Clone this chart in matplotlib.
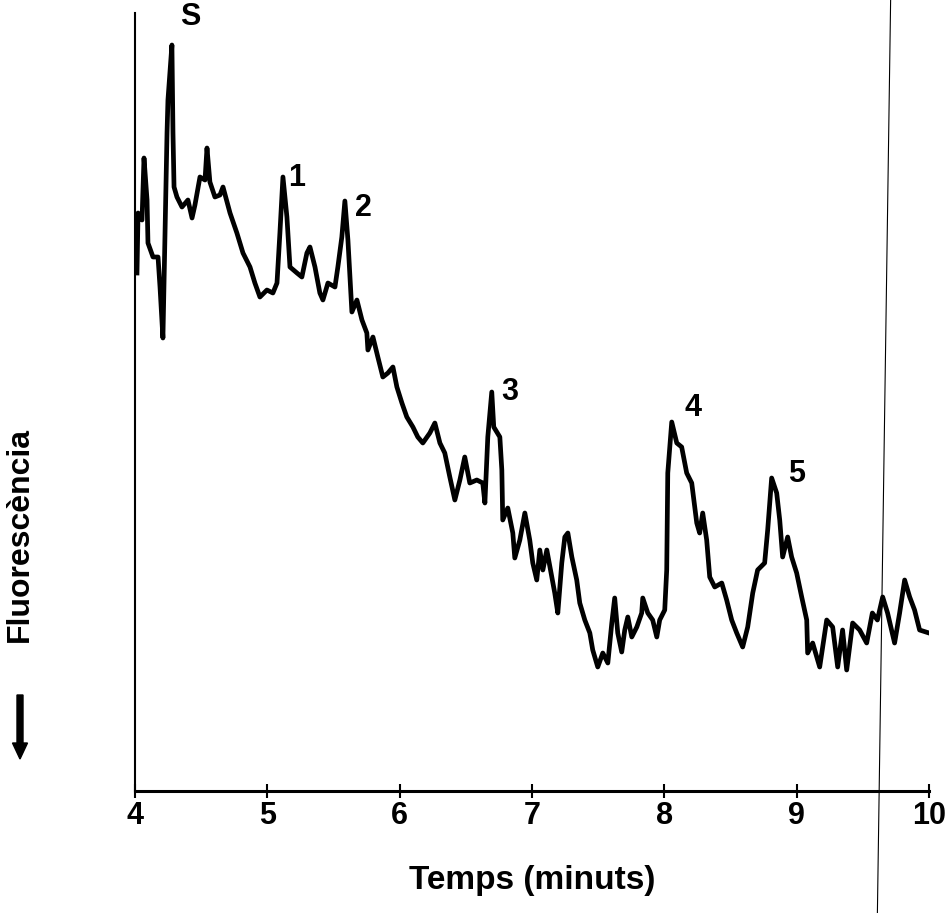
import numpy as np
import matplotlib
matplotlib.use("Agg")
import matplotlib.pyplot as plt

plt.rcParams['font.family'] = ['Liberation Sans Narrow', 'Liberation Sans', 'DejaVu Sans']
plt.rcParams['font.weight'] = 'bold'

# chromatogram trace (time in minutes, fluorescence in a.u.)
temps = [4.015, 4.023, 4.053, 4.068, 4.091, 4.098, 4.136, 4.174, 4.189, 4.211,
         4.242, 4.249, 4.279, 4.287, 4.295, 4.317, 4.355, 4.400, 4.431, 4.453,
         4.491, 4.529, 4.544, 4.566, 4.604, 4.642, 4.665, 4.718, 4.770, 4.816,
         4.869, 4.906, 4.944, 4.997, 5.042, 5.073, 5.095, 5.118, 5.148, 5.171,
         5.224, 5.261, 5.299, 5.322, 5.360, 5.397, 5.420, 5.458, 5.511, 5.533,
         5.563, 5.586, 5.609, 5.639, 5.677, 5.715, 5.752, 5.760, 5.798, 5.835,
         5.873, 5.911, 5.949, 5.979, 6.017, 6.054, 6.100, 6.137, 6.175, 6.228,
         6.266, 6.304, 6.341, 6.379, 6.417, 6.455, 6.492, 6.530, 6.583, 6.628,
         6.644, 6.666, 6.696, 6.711, 6.757, 6.772, 6.779, 6.817, 6.855, 6.870,
         6.908, 6.946, 6.983, 7.006, 7.036, 7.059, 7.082, 7.112, 7.150, 7.172,
         7.195, 7.225, 7.248, 7.271, 7.301, 7.338, 7.361, 7.399, 7.437, 7.459,
         7.497, 7.535, 7.573, 7.603, 7.625, 7.648, 7.678, 7.701, 7.724, 7.754,
         7.792, 7.829, 7.837, 7.875, 7.912, 7.943, 7.965, 8.003, 8.018, 8.026,
         8.056, 8.094, 8.131, 8.169, 8.207, 8.245, 8.267, 8.290, 8.320, 8.343,
         8.381, 8.434, 8.471, 8.509, 8.547, 8.592, 8.630, 8.668, 8.705, 8.758,
         8.781, 8.811, 8.849, 8.872, 8.894, 8.932, 8.962, 9.000, 9.038, 9.076,
         9.083, 9.121, 9.174, 9.227, 9.272, 9.310, 9.347, 9.378, 9.423, 9.476,
         9.529, 9.572, 9.610, 9.650, 9.687, 9.740, 9.778, 9.816, 9.854, 9.891,
         9.929, 10.0]
fluor = [518, 578, 571, 633, 591, 548, 534, 534, 504, 453,
         658, 691, 746, 658, 604, 594, 584, 591, 573, 586,
         614, 611, 643, 609, 594, 596, 604, 578, 558, 538,
         524, 508, 494, 501, 498, 508, 558, 614, 574, 524,
         518, 514, 538, 544, 524, 498, 491, 508, 504, 524,
         554, 590, 551, 479, 491, 471, 458, 441, 454, 434,
         414, 418, 424, 404, 388, 374, 364, 354, 348, 358,
         368, 348, 338, 314, 291, 311, 334, 308, 311, 308,
         288, 354, 399, 364, 354, 321, 271, 283, 258, 233,
         251, 278, 251, 228, 211, 241, 221, 241, 214, 198,
         178, 228, 254, 258, 234, 211, 188, 171, 158, 141,
         124, 138, 128, 168, 193, 158, 139, 161, 174, 154,
         164, 178, 193, 178, 171, 154, 171, 181, 221, 318,
         369, 348, 344, 318, 308, 268, 258, 278, 251, 214,
         204, 208, 191, 171, 158, 144, 164, 198, 221, 228,
         261, 313, 298, 271, 234, 254, 234, 218, 194, 171,
         138, 148, 124, 171, 164, 124, 161, 121, 168, 161,
         148, 178, 171, 194, 178, 148, 178, 211, 194, 181,
         161, 158]

# peak labels
peak_names = ['S', '1', '2', '3', '4', '5']
peak_t = [4.415, 5.224, 5.730, 6.832, 8.215, 9.0]
peak_y = [774, 613, 583, 399, 383, 317]

x_ticks = [4, 5, 6, 7, 8, 9, 10]

# stray vertical line on the scan
stray_t = [9.71, 9.61]
stray_y = [791, -122]

fig = plt.figure(figsize=(9.52, 9.13), dpi=100)
ax = fig.add_axes([135 / 952, 122 / 913, 794 / 952, 778 / 913])

ax.plot(temps, fluor, color='black', lw=3.4, solid_joinstyle='round')
ax.plot(stray_t, stray_y, color='black', lw=0.8, clip_on=False)

for name, t, y in zip(peak_names, peak_t, peak_y):
    ax.text(t, y, name, fontsize=22, fontweight='bold', ha='center', va='center')

ax.set_xlim(4, 10)
ax.set_ylim(0, 778)
ax.set_xticks(x_ticks)
ax.set_xticklabels([str(v) for v in x_ticks], fontsize=22, fontweight='bold')
ax.set_yticks([])
ax.tick_params(axis='x', direction='inout', length=10, width=1.5, pad=2)
ax.spines['top'].set_visible(False)
ax.spines['right'].set_visible(False)
ax.spines['left'].set_linewidth(1.5)
ax.spines['bottom'].set_linewidth(2.2)

ax.set_xlabel('Temps (minuts)', fontsize=24, fontweight='bold', labelpad=25)

fig.text(20 / 952, 1 - 535 / 913, 'Fluorescència', rotation=90, fontsize=23,
         fontweight='bold', ha='center', va='center')
fig.add_artist(matplotlib.patches.FancyArrow(20 / 952, 1 - 695 / 913, 0, -(64 / 913),
               width=6 / 952, head_width=15 / 952, head_length=16 / 913,
               length_includes_head=True, color='black', transform=fig.transFigure))

fig.savefig('out.png', dpi=100)
